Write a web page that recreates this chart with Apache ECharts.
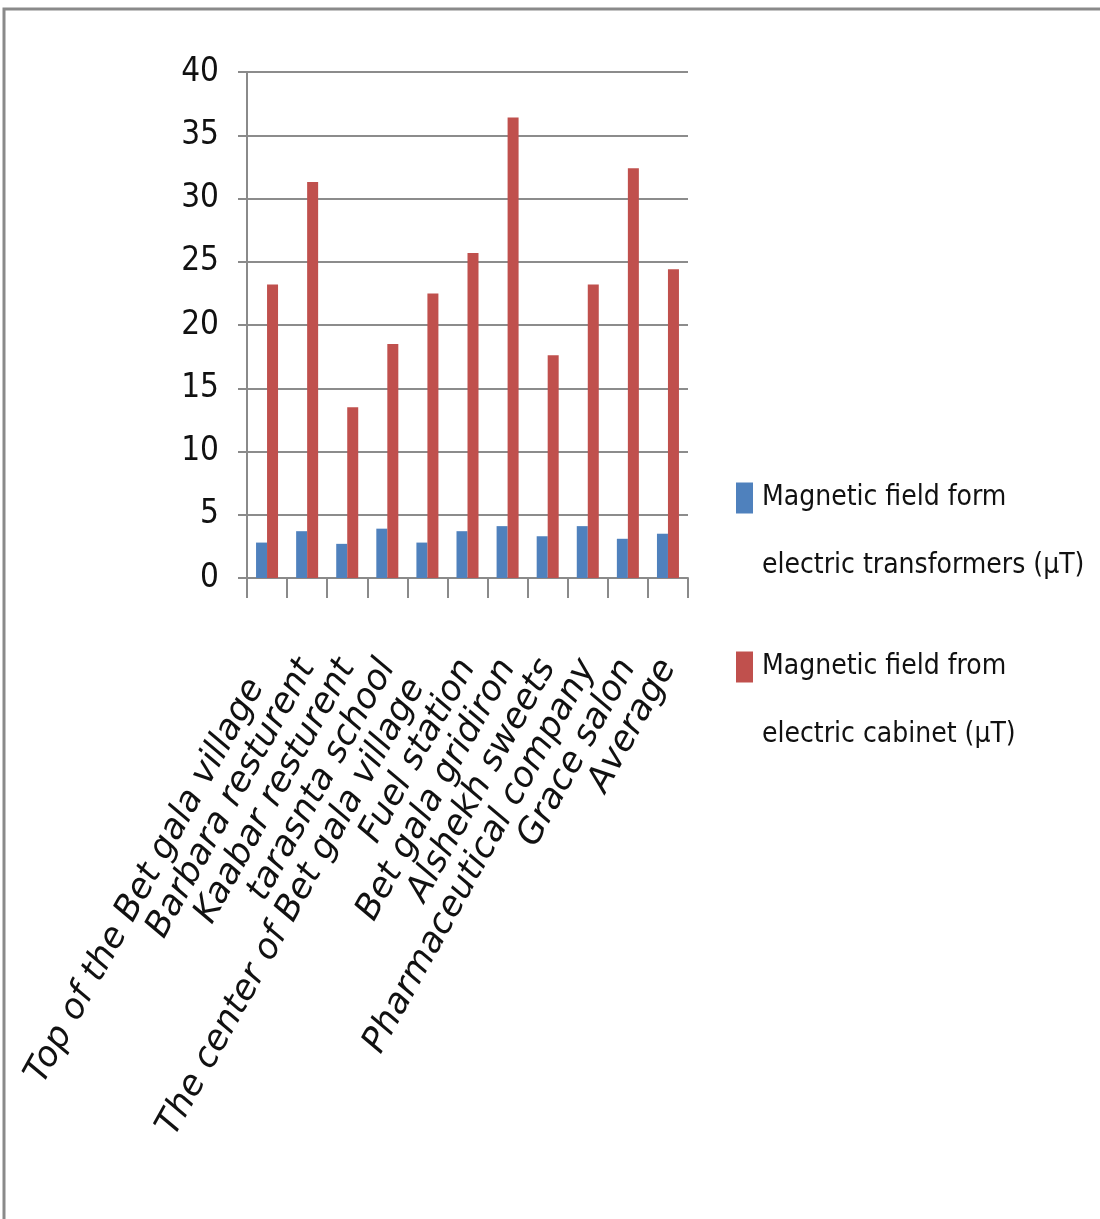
<!DOCTYPE html>
<html>
<head>
<meta charset="utf-8">
<script src="https://cdn.jsdelivr.net/npm/echarts@6/dist/echarts.min.js"></script>
<style>
html,body{margin:0;padding:0;background:#fff;}
#chart{width:1100px;height:1219px;}
</style>
</head>
<body>
<div id="chart"></div>
<script>
var categories = ["Top of the Bet gala village  ","Barbara resturent","Kaabar resturent","tarasnta school","The center of Bet gala village  ","Fuel station","Bet gala gridiron","Alshekh sweets","Pharmaceutical company","Grace salon","Average"];
var seriesNames = ["Magnetic field form\nelectric transformers (\u00b5T)","Magnetic field from\nelectric cabinet (\u00b5T)"];
var transformerValues = [2.8, 3.7, 2.7, 3.9, 2.8, 3.7, 4.1, 3.3, 4.1, 3.1, 3.5];
var cabinetValues = [23.2, 31.3, 13.5, 18.5, 22.5, 25.7, 36.4, 17.6, 23.2, 32.4, 24.4];
var yTicks = [0, 5, 10, 15, 20, 25, 30, 35, 40];

var chart = echarts.init(document.getElementById('chart'), null, {renderer:'canvas'});
var legendText = {
  fontFamily: '"DejaVu Sans Condensed","DejaVu Sans",sans-serif',
  fontSize: 28,
  lineHeight: 68,
  color: '#111',
  padding: [0, 0, 0, 4]
};
chart.setOption({
  backgroundColor: '#ffffff',
  animation: false,
  graphic: [{
    type: 'rect',
    shape: {x: 4, y: 9, width: 1300, height: 1400},
    style: {fill: 'none', stroke: '#8a8a8a', lineWidth: 3},
    silent: true
  }],
  grid: {left: 247, right: 412, top: 72, bottom: 641, containLabel: false},
  legend: [{
    data: [seriesNames[0]],
    left: 736, top: 396, orient: 'vertical', padding: 0,
    itemWidth: 17, itemHeight: 31, itemGap: 0,
    icon: 'rect',
    formatter: function (n) { return '\n' + n; },
    textStyle: legendText
  }, {
    data: [seriesNames[1]],
    left: 736, top: 565, orient: 'vertical', padding: 0,
    itemWidth: 17, itemHeight: 31, itemGap: 0,
    icon: 'rect',
    formatter: function (n) { return '\n' + n; },
    textStyle: legendText
  }],
  xAxis: {
    type: 'category',
    data: categories,
    boundaryGap: true,
    axisLine: {lineStyle: {color: '#8a8a8a', width: 2}},
    axisTick: {show: true, length: 20, lineStyle: {color: '#8a8a8a', width: 2}},
    axisLabel: {
      interval: 0,
      rotate: 61,
      margin: 84,
      fontFamily: '"DejaVu Sans",sans-serif',
      fontStyle: 'italic',
      fontSize: 35,
      color: '#111'
    }
  },
  yAxis: {
    type: 'value',
    min: 0, max: 40, interval: 5,
    axisLine: {show: true, lineStyle: {color: '#8a8a8a', width: 2}},
    axisTick: {show: true, length: 9, lineStyle: {color: '#8a8a8a', width: 2}},
    splitLine: {lineStyle: {color: '#8c8c8c', width: 2}},
    axisLabel: {
      margin: 28,
      fontFamily: '"DejaVu Sans Condensed","DejaVu Sans",sans-serif',
      fontSize: 33,
      color: '#111',
      formatter: function (v) { return yTicks.indexOf(v) >= 0 ? String(v) : ''; }
    }
  },
  series: [{
    name: seriesNames[0],
    type: 'bar',
    data: transformerValues,
    barWidth: 11,
    barGap: '0%',
    itemStyle: {color: '#4F81BD'}
  }, {
    name: seriesNames[1],
    type: 'bar',
    data: cabinetValues,
    barWidth: 11,
    barGap: '0%',
    itemStyle: {color: '#C0504D'}
  }]
});
</script>
</body>
</html>
